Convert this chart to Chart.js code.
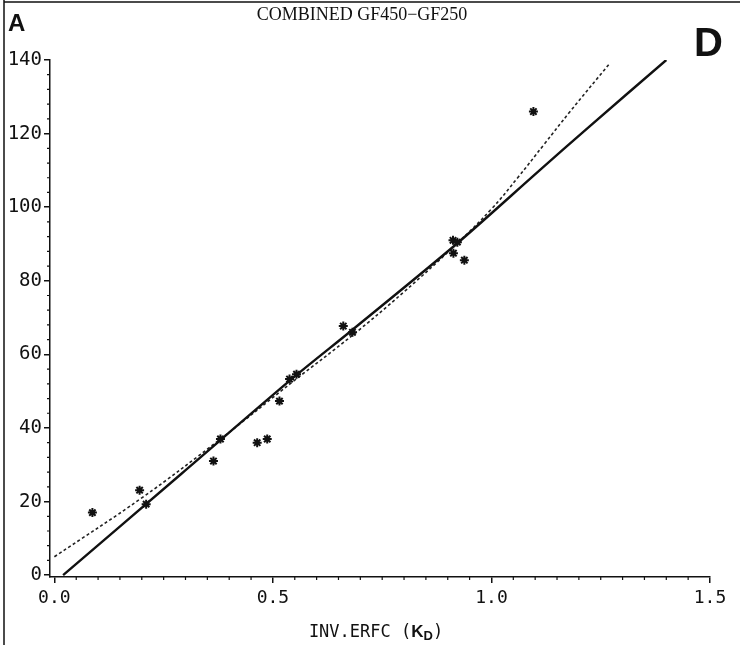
<!DOCTYPE html>
<html>
<head>
<meta charset="utf-8">
<script src="https://cdn.jsdelivr.net/npm/chart.js@4.4.1/dist/chart.umd.min.js"></script>
<style>
  html, body { margin: 0; background: #fff; }
  #wrap { width: 740px; height: 645px; }
</style>
</head>
<body>
<div id="wrap"><canvas id="chart"></canvas></div>
<script>
// measured points (asterisks)
const starX = [0.087, 0.195, 0.21, 0.364, 0.38, 0.464, 0.487, 0.515, 0.538, 0.554, 0.661, 0.682, 0.912, 0.922, 0.913, 0.938, 1.096];
const starY = [17, 23.1, 19.3, 31, 37, 36, 37, 47.3, 53.3, 54.6, 67.7, 66, 91, 90.5, 87.5, 85.6, 126];

// solid fit line
const solidX = [0.02, 0.29, 0.55, 0.68, 0.92, 1.11, 1.22, 1.4];
const solidY = [0, 27.5, 54, 66.5, 90, 110, 121.5, 140];

// dashed fit curve
const dashX = [0, 0.2, 0.38, 0.55, 0.68, 0.8, 0.92, 1.0, 1.06, 1.12, 1.18, 1.27];
const dashY = [5, 21, 37, 53, 65, 77, 90, 99.5, 108, 117, 126, 139];

const xTicks = [0, 0.5, 1.0, 1.5];
const yTicks = [0, 20, 40, 60, 80, 100, 120, 140];

const toPts = (xs, ys) => xs.map((x, i) => ({ x: x, y: ys[i] }));

const monoFont = "'DejaVu Sans Mono', 'Liberation Mono', monospace";

const decor = {
    id: 'decor',
    afterDraw(chart) {
        const c = chart.ctx;
        const xs = chart.scales.x, ys = chart.scales.y;
        c.save();
        c.strokeStyle = '#111';
        c.lineWidth = 1.2;
        // minor ticks
        c.beginPath();
        for (let i = 1; i < 30; i++) {
            if (i % 10 === 0) continue;
            const px = xs.getPixelForValue(i * 0.05);
            c.moveTo(px, xs.top);
            c.lineTo(px, xs.top + 3);
        }
        for (let v = 4; v < 140; v += 4) {
            if (v % 20 === 0) continue;
            const py = ys.getPixelForValue(v);
            c.moveTo(ys.right, py);
            c.lineTo(ys.right - 3, py);
        }
        c.stroke();

        // frame lines of the scan
        c.lineWidth = 1.5;
        c.beginPath();
        c.moveTo(4, 0); c.lineTo(4, 645);
        c.moveTo(4, 2); c.lineTo(740, 2);
        c.stroke();

        c.fillStyle = '#111';
        // title
        c.font = "18px 'Liberation Serif', serif";
        c.textAlign = 'center';
        c.textBaseline = 'alphabetic';
        c.fillText('COMBINED GF450\u2212GF250', 362, 20);

        // panel letters
        c.font = "bold 24px 'Liberation Sans', sans-serif";
        c.textAlign = 'left';
        c.fillText('A', 8, 31);
        c.font = "bold 40px 'Liberation Sans', sans-serif";
        c.fillText('D', 694, 56);

        // x axis title with bold K_D
        const y0 = 637;
        c.font = "17px " + monoFont;
        const part1 = 'INV.ERFC (';
        const w1 = c.measureText(part1).width;
        c.font = "bold 17px 'Liberation Sans', sans-serif";
        const wK = c.measureText('K').width;
        c.font = "bold 13px 'Liberation Sans', sans-serif";
        const wD = c.measureText('D').width;
        c.font = "17px " + monoFont;
        const w3 = c.measureText(')').width;
        let x = 376 - (w1 + wK + wD + w3) / 2;
        c.fillText(part1, x, y0); x += w1;
        c.font = "bold 17px 'Liberation Sans', sans-serif";
        c.fillText('K', x, y0); x += wK;
        c.font = "bold 13px 'Liberation Sans', sans-serif";
        c.fillText('D', x, y0 + 3); x += wD;
        c.font = "17px " + monoFont;
        c.fillText(')', x, y0);
        c.restore();
    }
};

new Chart(document.getElementById('chart'), {
    type: 'scatter',
    data: {
        datasets: [
            {
                label: 'data',
                data: toPts(starX, starY),
                pointStyle: 'star',
                pointRadius: 4.5,
                borderColor: '#111',
                backgroundColor: '#111',
                borderWidth: 2
            },
            {
                label: 'fit',
                data: toPts(solidX, solidY),
                showLine: true,
                pointRadius: 0,
                borderColor: '#111',
                borderWidth: 2.4,
                tension: 0.3
            },
            {
                label: 'curve',
                data: toPts(dashX, dashY),
                showLine: true,
                pointRadius: 0,
                borderColor: '#222',
                borderWidth: 1.6,
                borderDash: [3, 2.5],
                tension: 0.4
            }
        ]
    },
    options: {
        responsive: true,
        maintainAspectRatio: false,
        animation: false,
        layout: { padding: { top: 60, right: 30, bottom: 0, left: 0 } },
        plugins: {
            legend: { display: false },
            tooltip: { enabled: false }
        },
        scales: {
            x: {
                type: 'linear',
                min: -0.01,
                max: 1.5,
                afterBuildTicks: s => { s.ticks = xTicks.map(v => ({ value: v })); },
                afterFit: s => { s.height = 68; },
                border: { display: true, color: '#111', width: 1.5 },
                grid: { drawOnChartArea: false, drawTicks: true, tickLength: 6, color: '#111', lineWidth: 1.5 },
                ticks: {
                    color: '#111',
                    padding: 5,
                    maxRotation: 0,
                    font: { family: monoFont, size: 18 },
                    callback: v => Number(v).toFixed(1)
                }
            },
            y: {
                type: 'linear',
                min: -0.5,
                max: 140,
                afterBuildTicks: s => { s.ticks = yTicks.map(v => ({ value: v })); },
                afterFit: s => { s.width = 50; },
                border: { display: true, color: '#111', width: 1.5 },
                grid: { drawOnChartArea: false, drawTicks: true, tickLength: 6, color: '#111', lineWidth: 1.5 },
                ticks: {
                    color: '#111',
                    padding: 2,
                    font: { family: monoFont, size: 19 },
                    callback: v => String(v)
                }
            }
        }
    },
    plugins: [decor]
});
</script>
</body>
</html>
